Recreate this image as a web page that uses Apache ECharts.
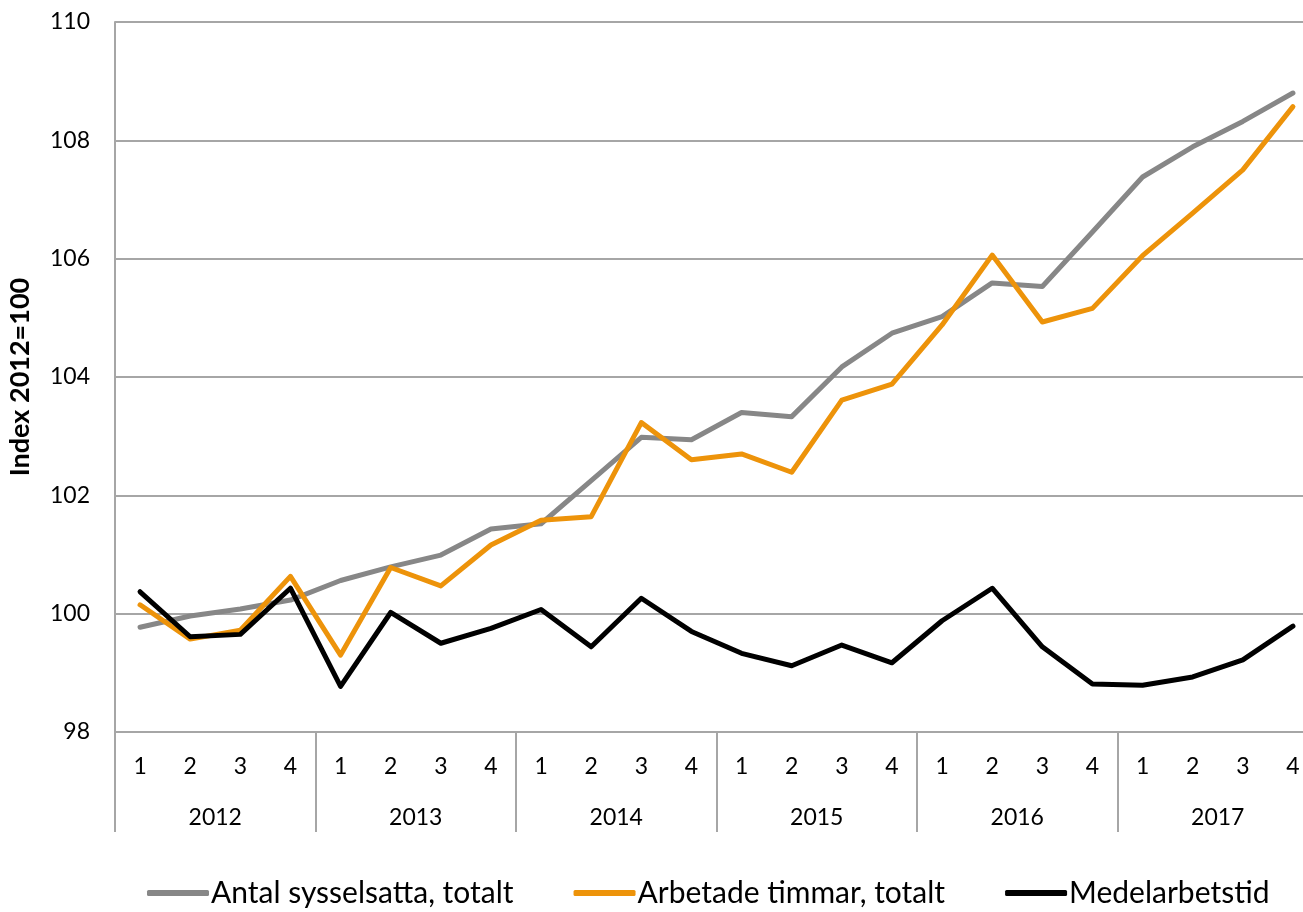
<!DOCTYPE html>
<html>
<head>
    <meta charset="utf-8">
    <title>Index 2012=100</title>
    <script src="https://cdn.jsdelivr.net/npm/echarts@6/dist/echarts.min.js"></script>
    <style>
        html, body { margin: 0; padding: 0; background: #fff; overflow: hidden; }
        /* plottytan går lite utanför bildens högra kant, som i originalet */
        #main { width: 1318px; height: 912px; }
    </style>
</head>
<body>
<div id="main"></div>
<script>
    // kvartal och år
    var quarters = ['1','2','3','4','1','2','3','4','1','2','3','4','1','2','3','4','1','2','3','4','1','2','3','4'];
    var years = ['2012', '2013', '2014', '2015', '2016', '2017'];

    var antalSysselsatta = [99.77, 99.96, 100.08, 100.23, 100.56, 100.79, 100.99, 101.43,
        101.52, 102.25, 102.98, 102.94, 103.40, 103.33, 104.17, 104.74,
        105.02, 105.59, 105.53, 106.45, 107.38, 107.89, 108.32, 108.80];
    var arbetadeTimmar = [100.15, 99.57, 99.72, 100.63, 99.30, 100.78, 100.47, 101.16,
        101.58, 101.64, 103.23, 102.60, 102.70, 102.39, 103.61, 103.88,
        104.88, 106.06, 104.93, 105.16, 106.05, 106.77, 107.50, 108.57];
    var medelarbetstid = [100.37, 99.61, 99.65, 100.43, 98.77, 100.02, 99.50, 99.75,
        100.07, 99.44, 100.26, 99.70, 99.33, 99.12, 99.47, 99.17,
        99.88, 100.43, 99.44, 98.81, 98.79, 98.93, 99.22, 99.79];

    var font = 'Lato, "Open Sans", sans-serif';
    var gridColor = '#a6a6a6';

    var myChart = echarts.init(document.getElementById('main'), null, { renderer: 'canvas' });

    function serie(name, data, color) {
        return {
            name: name,
            type: 'line',
            data: data,
            symbol: 'none',
            lineStyle: { color: color, width: 5, cap: 'round', join: 'round' },
            itemStyle: { color: color },
            animation: false
        };
    }

    var option = {
        animation: false,
        grid: { left: 115, right: 0, top: 22, bottom: 180, containLabel: false, outerBoundsMode: 'none' },
        legend: {
            top: 873,
            left: 142,
            itemWidth: 62,
            itemHeight: 6,
            itemGap: 60,
            icon: 'roundRect',
            textStyle: { fontFamily: '"Liberation Sans Narrow", Lato, sans-serif', fontSize: 30, color: '#000', padding: [0, 0, 0, -3] },
            data: ['Antal sysselsatta, totalt', 'Arbetade timmar, totalt', 'Medelarbetstid']
        },
        xAxis: [{
            type: 'category',
            data: quarters,
            boundaryGap: true,
            axisLine: { show: true, lineStyle: { color: gridColor, width: 2 } },
            axisTick: { show: false },
            axisLabel: { interval: 0, margin: 23, fontFamily: font, fontSize: 23, color: '#000' }
        }, {
            type: 'category',
            data: years,
            position: 'bottom',
            boundaryGap: true,
            axisLine: { show: false },
            axisTick: { show: true, length: 100, interval: 0, lineStyle: { color: gridColor, width: 2 } },
            axisLabel: { interval: 0, margin: 74, fontFamily: font, fontSize: 23, color: '#000' }
        }],
        yAxis: {
            type: 'value',
            min: 98,
            max: 110,
            interval: 2,
            name: 'Index 2012=100',
            nameLocation: 'middle',
            nameGap: 81,
            nameTextStyle: { fontFamily: font, fontSize: 27, fontWeight: 'bold', color: '#000' },
            axisLine: { show: true, lineStyle: { color: gridColor, width: 2 } },
            axisTick: { show: false },
            axisLabel: { margin: 25, fontFamily: font, fontSize: 23, color: '#000' },
            splitLine: { show: true, lineStyle: { color: gridColor, width: 2 } }
        },
        series: [
            serie('Antal sysselsatta, totalt', antalSysselsatta, '#878787'),
            serie('Arbetade timmar, totalt', arbetadeTimmar, '#ed930a'),
            serie('Medelarbetstid', medelarbetstid, '#000000')
        ]
    };
    myChart.setOption(option);
</script>
</body>
</html>
